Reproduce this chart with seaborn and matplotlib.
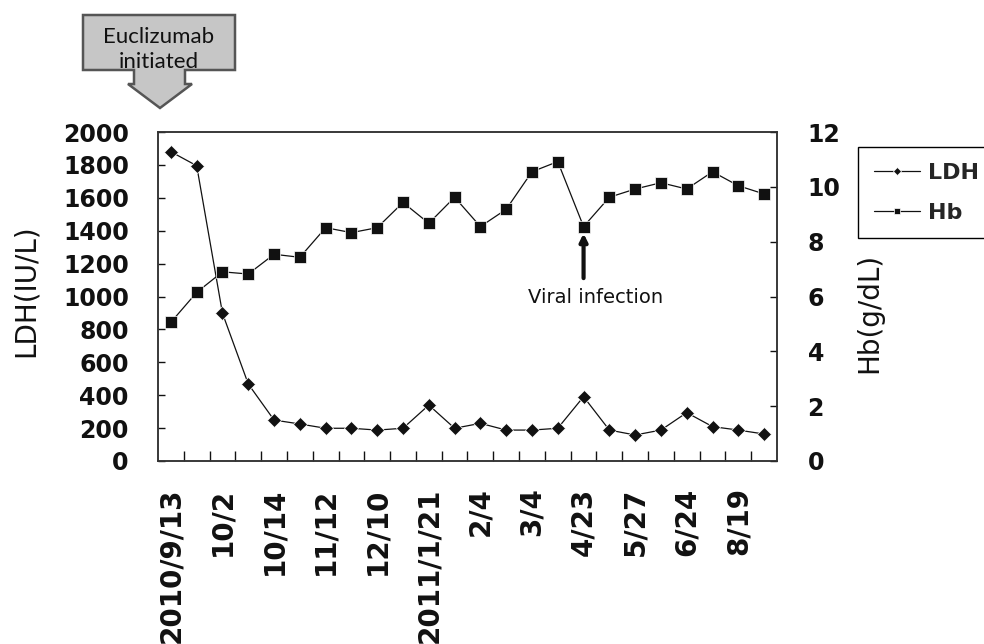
import pandas as pd
import seaborn as sns
import matplotlib.pyplot as plt
from matplotlib.patches import Polygon
from matplotlib.ticker import MultipleLocator

# values (24 visits, only every other date is labelled)
ldh = [1880, 1795, 898, 468, 249, 225, 199, 199, 188, 199, 340, 199,
       229, 188, 188, 199, 391, 188, 158, 188, 294, 209, 188, 164]
hb = [5.06, 6.15, 6.90, 6.82, 7.54, 7.43, 8.51, 8.33, 8.51, 9.43, 8.67, 9.62,
      8.55, 9.18, 10.55, 10.92, 8.55, 9.62, 9.92, 10.15, 9.92, 10.55, 10.04, 9.74]
date_labels = ["2010/9/13", "10/2", "10/14", "11/12", "12/10", "2011/1/21",
               "2/4", "3/4", "4/23", "5/27", "6/24", "8/19"]
infection_visit = 16

data = pd.DataFrame({"idx": range(len(ldh)), "LDH": ldh, "Hb": hb})

sns.set_style("ticks")
plt.rcParams["font.family"] = ["DejaVu Sans"]

W, H = 984, 644
fig = plt.figure(figsize=(W / 100, H / 100), dpi=100)
ax = fig.add_axes([158 / W, 1 - 461 / H, 619 / W, 329 / H])
ax2 = ax.twinx()

ink = "#111111"
sns.lineplot(data=data, x="idx", y="LDH", ax=ax, color=ink, lw=0.9,
             marker="D", markersize=6.8, markeredgewidth=0.5, legend=False)
sns.lineplot(data=data, x="idx", y="Hb", ax=ax2, color=ink, lw=0.9,
             marker="s", markersize=8, markeredgewidth=0.5, legend=False)

ax.set_xlim(-0.5, len(ldh) - 0.5)
ax.set_ylim(0, 2000)
ax2.set_ylim(0, 12)
ax.yaxis.set_major_locator(MultipleLocator(200))
ax2.yaxis.set_major_locator(MultipleLocator(2))

ax.set_xticks(range(0, len(ldh), 2))
ax.set_xticklabels(date_labels, rotation=90, fontsize=20, fontweight="bold")
ax.set_xticks([i + 0.5 for i in range(len(ldh) - 1)], minor=True)
ax.tick_params(axis="x", which="major", length=0, pad=19, colors=ink)
ax.tick_params(axis="x", which="minor", direction="in", length=7, width=1, color=ink)
ax.tick_params(axis="y", direction="in", length=5, width=1, labelsize=17, pad=21, colors=ink)
ax2.tick_params(axis="y", direction="in", length=5, width=1, labelsize=17, pad=22, colors=ink)
for lab in ax.get_yticklabels() + ax2.get_yticklabels():
    lab.set_fontweight("bold")

ax.set_xlabel("")
ax.set_ylabel("LDH(IU/L)", fontsize=20, color=ink)
ax2.set_ylabel("Hb(g/dL)", fontsize=20, color=ink)
ax.yaxis.set_label_coords(-0.1906, 0.517)
ax2.yaxis.set_label_coords(1.126, 0.45)

for a in (ax, ax2):
    for s in a.spines.values():
        s.set_visible(True)
        s.set_color("#333333")
        s.set_linewidth(1.1)

# viral infection note
ax2.annotate("", xy=(infection_visit, 8.3), xytext=(infection_visit, 6.67),
             arrowprops=dict(arrowstyle="-|>", lw=3, color=ink, mutation_scale=11,
                             shrinkA=0, shrinkB=0))
ax2.text(infection_visit + 0.48, 5.98, "Viral infection", ha="center", va="center",
         fontsize=14, color=ink)

# legend outside, right of the plot (frame runs off the right edge as in the original)
leg = fig.legend(handles=[ax.lines[0], ax2.lines[0]], labels=["LDH", "Hb"],
                 loc="upper left", bbox_to_anchor=(858 / W, 1 - 147 / H),
                 frameon=True, fancybox=False, edgecolor="black", framealpha=1,
                 prop={"size": 16, "weight": "bold"}, handlelength=2.1,
                 handletextpad=0.35, labelspacing=0.9, borderpad=0.7,
                 borderaxespad=0, markerscale=0.6)
leg.get_frame().set_linewidth(1.0)

# "Euclizumab initiated" callout
px = [(83, 15), (235, 15), (235, 70), (185, 70), (185, 84), (192, 84), (160, 108),
      (128, 84), (134, 84), (134, 70), (83, 70)]
fig.add_artist(Polygon([(x / W, 1 - y / H) for x, y in px], closed=True,
                       transform=fig.transFigure, facecolor="#c6c6c6",
                       edgecolor="#555555", lw=1.8))
fig.text(159 / W, 1 - 37 / H, "Euclizumab", ha="center", va="center",
         fontsize=16, family="Lato", color="#111111")
fig.text(159 / W, 1 - 62 / H, "initiated", ha="center", va="center",
         fontsize=16, family="Lato", color="#111111")

fig.savefig("out.png", dpi=100)
